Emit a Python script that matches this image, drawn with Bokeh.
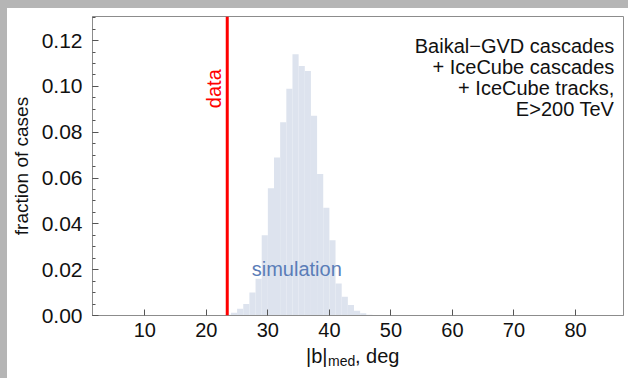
import numpy as np
from bokeh.plotting import figure
from bokeh.layouts import column, row
from bokeh.models import (Span, Label, ColumnDataSource, FixedTicker,
                          NumeralTickFormatter, Div)
from bokeh.embed import file_html
from bokeh.resources import INLINE

# ---- data ----
bin_left = [23, 24, 25, 26, 27, 28, 29, 30, 31, 32, 33, 34, 35, 36, 37, 38, 39,
            40, 41, 42, 43, 44, 45, 46]
bin_frac = [0.0003, 0.0012, 0.0030, 0.0050, 0.0100, 0.0160, 0.0350, 0.0555,
            0.0690, 0.0843, 0.0990, 0.1140, 0.1089, 0.1067, 0.0872, 0.0618,
            0.0470, 0.0328, 0.0140, 0.0082, 0.0046, 0.0021, 0.0010, 0.0003]
bin_width = 1.0
data_median = 23.4
x_ticks = [10, 20, 30, 40, 50, 60, 70, 80]
y_ticks = [0.00, 0.02, 0.04, 0.06, 0.08, 0.10, 0.12]
legend_lines = ["Baikal\u2212GVD cascades", "+ IceCube cascades",
                "+ IceCube tracks,", "E>200 TeV"]

FONT = "Liberation Sans"
TXT = "#111111"
GREY = "#b5b5b5"

x_range = (1.5, 87.8)

p = figure(width=621, height=337, output_backend="svg", toolbar_location=None,
           x_range=x_range, y_range=(0, 0.1305),
           min_border_left=85, min_border_right=5, min_border_top=8,
           min_border_bottom=30)
p.background_fill_color = "white"
p.border_fill_color = "white"
p.outline_line_color = "#8c8c8c"
p.outline_line_width = 1
p.grid.visible = False

src = ColumnDataSource(dict(left=bin_left,
                            right=[b + bin_width for b in bin_left],
                            top=bin_frac,
                            bottom=[0] * len(bin_left)))
p.quad(left="left", right="right", top="top", bottom="bottom", source=src,
       fill_color="#dde3ee", line_color=None)

p.add_layout(Span(location=data_median, dimension="height", line_color="#ff0000",
                  line_width=3))

p.add_layout(Label(x=data_median, y=0.099, x_offset=-13, text="data", angle=np.pi / 2,
                   text_color="#ff0000", text_font=FONT, text_font_size="20px",
                   text_align="center", text_baseline="middle"))

p.add_layout(Label(x=34.7, y=0.0202, text="simulation", text_color="#5a7db8",
                   text_font=FONT, text_font_size="20px",
                   text_align="center", text_baseline="middle"))

for i, line in enumerate(legend_lines):
    p.add_layout(Label(x=86.3, y=0.1178, y_offset=-21 * i, text=line,
                       text_color=TXT, text_font=FONT, text_font_size="20px",
                       text_align="right", text_baseline="middle"))

# axes
for ax in (p.xaxis[0], p.yaxis[0]):
    ax.axis_line_color = "#8c8c8c"
    ax.major_tick_line_color = "#555555"
    ax.minor_tick_line_color = "#555555"
    ax.major_tick_in = 6
    ax.major_tick_out = 0
    ax.minor_tick_in = 3
    ax.minor_tick_out = 0
    ax.major_label_text_font = FONT
    ax.major_label_text_font_size = "20px"
    ax.major_label_text_color = TXT
    ax.axis_label_text_font = FONT
    ax.axis_label_text_font_style = "normal"
    ax.axis_label_text_color = TXT

p.xaxis.ticker = FixedTicker(ticks=x_ticks)
p.xaxis.major_label_standoff = 7
p.xaxis.minor_tick_line_color = None

p.yaxis.ticker = FixedTicker(ticks=y_ticks,
                             minor_ticks=[round(0.005 * k, 3) for k in range(27)])
p.yaxis.formatter = NumeralTickFormatter(format="0.00")
p.yaxis.major_label_text_font_size = "21px"
p.yaxis.major_label_standoff = 10
p.yaxis.axis_label = "fraction of cases"
p.yaxis.axis_label_text_font_size = "19px"
p.yaxis.axis_label_standoff = 7

# x axis label (with subscript) in a strip below the plot
p2 = figure(width=621, height=33, output_backend="svg", toolbar_location=None,
            x_range=p.x_range, y_range=(0, 33),
            min_border_left=85, min_border_right=5, min_border_top=0,
            min_border_bottom=0)
p2.xaxis.visible = False
p2.yaxis.visible = False
p2.grid.visible = False
p2.outline_line_color = None
p2.background_fill_color = "white"
p2.border_fill_color = "white"

xc = (x_range[0] + x_range[1]) / 2
ylab = 23
p2.add_layout(Label(x=xc, y=ylab, x_offset=-52, text="|b|", text_font=FONT,
                    text_font_size="20px", text_color=TXT,
                    text_align="left", text_baseline="middle"))
p2.add_layout(Label(x=xc, y=ylab, x_offset=-30, y_offset=-5, text="med", text_font=FONT,
                    text_font_size="14px", text_color=TXT,
                    text_align="left", text_baseline="middle"))
p2.add_layout(Label(x=xc, y=ylab, x_offset=-3, text=", deg", text_font=FONT,
                    text_font_size="20px", text_color=TXT,
                    text_align="left", text_baseline="middle"))

left_strip = Div(text="", width=7, height=378, margin=0,
                 styles={"background-color": GREY})
top_strip = Div(text="", width=621, height=8, margin=0,
                styles={"background-color": GREY})

inner = column(top_strip, p, p2, spacing=0, margin=0,
               styles={"background-color": "white"})
root = row(left_strip, inner, spacing=0, margin=0,
           styles={"background-color": "white", "overflow": "hidden"})

open("out.html", "w").write(file_html(root, INLINE))
